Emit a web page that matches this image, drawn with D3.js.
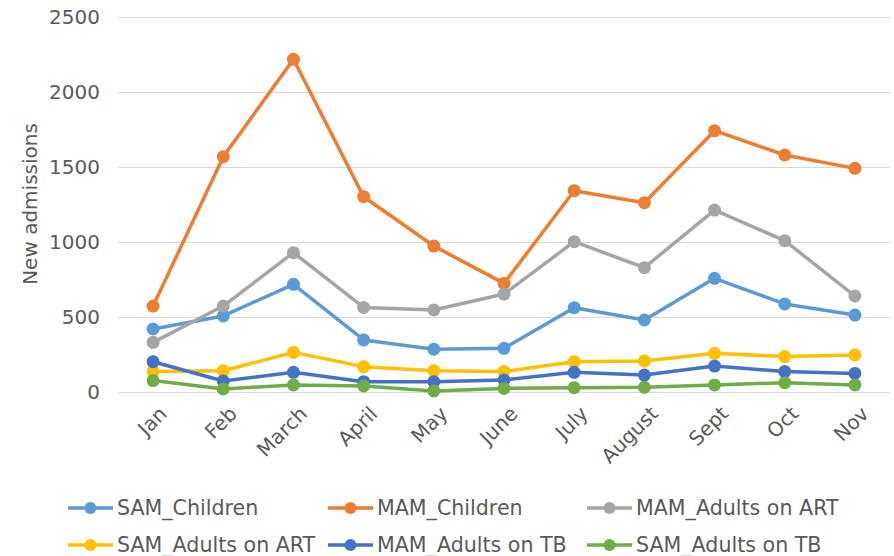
<!DOCTYPE html>
<html>
<head>
<meta charset="utf-8">
<script src="https://cdnjs.cloudflare.com/ajax/libs/d3/7.8.5/d3.min.js"></script>
<style>
  html, body { margin: 0; padding: 0; background: #fff; }
  svg { display: block; font-family: "DejaVu Sans", Verdana, sans-serif; }
</style>
</head>
<body>
<svg id="chart" width="894" height="556"></svg>
<script>
// Monthly new admissions by programme group
const months = ["Jan", "Feb", "March", "April", "May", "June", "July", "August", "Sept", "Oct", "Nov"];
const seriesNames = ["SAM_Children", "MAM_Children", "MAM_Adults on ART", "SAM_Adults on ART", "MAM_Adults on TB", "SAM_Adults on TB"];
const samChildren     = [420, 507, 718, 347, 285, 291, 562, 480, 758, 587, 513];
const mamChildren     = [573, 1569, 2218, 1302, 973, 724, 1342, 1262, 1742, 1580, 1491];
const mamAdultsArt    = [331, 573, 929, 564, 547, 653, 1002, 829, 1213, 1009, 640];
const samAdultsArt    = [136, 142, 264, 169, 142, 136, 202, 207, 258, 236, 247];
const mamAdultsTb     = [202, 73, 131, 69, 69, 80, 131, 113, 173, 136, 124];
const samAdultsTb     = [76, 20, 47, 40, 7, 24, 29, 31, 47, 62, 47];
const yTicks = [0, 500, 1000, 1500, 2000, 2500];
const colors = ["#5B9BD5", "#ED7D31", "#A5A5A5", "#FFC000", "#4472C4", "#70AD47"];

const seriesValues = [samChildren, mamChildren, mamAdultsArt, samAdultsArt, mamAdultsTb, samAdultsTb];
const series = seriesNames.map((name, i) => ({ name, values: seriesValues[i], color: colors[i] }));

const svg = d3.select("#chart");
const textColor = "#595959";
const fontSize = 20;

const plot = { left: 118, right: 890, top: 17, bottom: 392 };

const x = d3.scaleBand().domain(months).range([plot.left, plot.right]).padding(0);
const y = d3.scaleLinear().domain([0, 2500]).range([plot.bottom, plot.top]);
const cx = m => x(m) + x.bandwidth() / 2;

// Horizontal gridlines with value labels
const yAxis = d3.axisLeft(y).tickValues(yTicks).tickSize(-(plot.right - plot.left)).tickPadding(18).tickFormat(d3.format("d"));
const yg = svg.append("g").attr("transform", `translate(${plot.left},0)`).call(yAxis);
yg.select(".domain").remove();
yg.selectAll(".tick line").attr("stroke", "#D9D9D9").attr("stroke-width", 1);
yg.selectAll(".tick text").attr("fill", textColor).attr("font-size", fontSize).attr("font-family", "DejaVu Sans, Verdana, sans-serif");

// Month labels, slanted
const xAxis = d3.axisBottom(x).tickSize(0).tickPadding(0);
const xg = svg.append("g").attr("transform", `translate(0,${plot.bottom})`).call(xAxis);
xg.select(".domain").remove();
xg.selectAll(".tick text")
  .attr("fill", textColor)
  .attr("font-size", fontSize)
  .attr("font-family", "DejaVu Sans, Verdana, sans-serif")
  .attr("text-anchor", "end")
  .attr("dy", null)
  .attr("y", 0)
  .attr("transform", "translate(15,23) rotate(-45)");

// Axis title
svg.append("text")
  .attr("transform", `translate(37,${(120 + 288) / 2}) rotate(-90)`)
  .attr("text-anchor", "middle")
  .attr("fill", textColor)
  .attr("font-size", fontSize)
  .text("New admissions");

// Series lines and markers
const line = d3.line().x((d, i) => cx(months[i])).y(d => y(d));
series.forEach(s => {
  const g = svg.append("g");
  g.append("path")
    .attr("d", line(s.values))
    .attr("fill", "none")
    .attr("stroke", s.color)
    .attr("stroke-width", 3.5)
    .attr("stroke-linejoin", "round");
  g.selectAll("circle").data(s.values).join("circle")
    .attr("cx", (d, i) => cx(months[i]))
    .attr("cy", d => y(d))
    .attr("r", 6.5)
    .attr("fill", s.color);
});

// Legend: three columns, two rows
const legCols = [68, 328, 587];
const legRows = [508, 545];
series.forEach((s, i) => {
  const lx = legCols[i % 3], ly = legRows[Math.floor(i / 3)];
  const g = svg.append("g").attr("transform", `translate(${lx},${ly})`);
  g.append("line").attr("x1", 0).attr("x2", 45).attr("y1", 0).attr("y2", 0)
    .attr("stroke", s.color).attr("stroke-width", 3.5);
  g.append("circle").attr("cx", 22.5).attr("cy", 0).attr("r", 6).attr("fill", s.color);
  g.append("text").attr("x", 49).attr("y", 0).attr("dy", "0.35em")
    .attr("fill", textColor).attr("font-size", 20.6).text(s.name);
});
</script>
</body>
</html>
